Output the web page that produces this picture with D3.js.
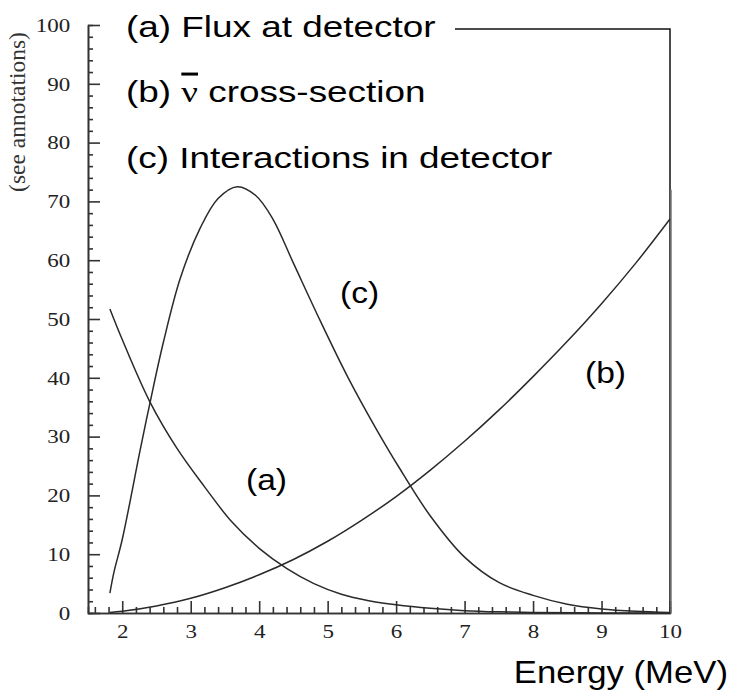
<!DOCTYPE html>
<html>
<head>
<meta charset="utf-8">
<script src="https://cdn.jsdelivr.net/npm/d3@7"></script>
<style>
  body { margin: 0; background: #fff; }
  .axis path, .axis line { stroke: #333; stroke-width: 1.6; }
  .label { font-family: "Liberation Sans", Arial, sans-serif; font-size: 30px; fill: #000; }
</style>
</head>
<body>
<script>
// values (energy in MeV, arbitrary units)
var fluxE = [1.82, 2, 2.4, 2.8, 3.2, 3.6, 4, 4.4, 4.8, 5.2, 5.6, 6, 6.5, 7, 7.5, 8, 9, 10];
var fluxV = [51.7, 46.5, 36, 28, 21.5, 15.5, 11, 7.6, 5, 3.2, 2.1, 1.4, 0.8, 0.4, 0.2, 0.1, 0, 0];

var crossE = [1.82, 2, 2.5, 3, 3.5, 4, 4.5, 5, 5.5, 6, 6.5, 7, 7.5, 8, 8.5, 9, 9.5, 10];
var crossV = [0.1, 0.3, 1.2, 2.5, 4.3, 6.5, 9.1, 12.2, 15.8, 19.8, 24.3, 29.2, 34.5, 40.2, 46.2, 52.6, 59.5, 67];

var interE = [1.82, 1.88, 2, 2.26, 2.41, 2.6, 2.85, 3.14, 3.4, 3.68, 3.95, 4.2, 4.5, 4.9, 5.3, 5.7, 6.03, 6.5, 7, 7.5, 8, 8.5, 9, 9.5, 10];
var interV = [3.4, 7, 12.5, 27.6, 36, 46, 57, 65.5, 70.5, 72.5, 71, 67, 59.5, 49.5, 40, 31.5, 25, 16.5, 9.5, 5.2, 3, 1.5, 0.7, 0.3, 0.1];

var xTicks = [2, 3, 4, 5, 6, 7, 8, 9, 10];
var yTicks = [0, 10, 20, 30, 40, 50, 60, 70, 80, 90, 100];

var series = [
  { name: "(a)", e: fluxE, v: fluxV },
  { name: "(b)", e: crossE, v: crossV },
  { name: "(c)", e: interE, v: interV }
];

var width = 734,
  height = 692;

var x = d3.scaleLinear().domain([1.5, 10]).range([88, 670]);
var y = d3.scaleLinear().domain([0, 100]).range([613, 25]);

var svg = d3
  .select("body")
  .append("svg")
  .attr("width", width)
  .attr("height", height);

// minor ticks
var xMinor = d3.range(8, 50).filter(function(i) { return i % 5 !== 0; }).map(function(i) { return i / 5; });
var yMinor = d3.range(0, 100, 2).filter(function(d) { return d % 10 !== 0; });

svg
  .append("g")
  .attr("class", "axis")
  .attr("transform", "translate(0," + y(0) + ")")
  .call(d3.axisBottom(x).tickValues(xMinor).tickSize(-6).tickFormat(""));

svg
  .append("g")
  .attr("class", "axis")
  .attr("transform", "translate(" + x(1.5) + ",0)")
  .call(d3.axisLeft(y).tickValues(yMinor).tickSize(-5).tickFormat(""));

var xAxis = svg
  .append("g")
  .attr("class", "axis")
  .attr("transform", "translate(0," + y(0) + ")")
  .call(d3.axisBottom(x).tickValues(xTicks).tickSizeInner(-12).tickSizeOuter(0).tickPadding(11));

var yAxis = svg
  .append("g")
  .attr("class", "axis")
  .attr("transform", "translate(" + x(1.5) + ",0)")
  .call(d3.axisLeft(y).tickValues(yTicks).tickSizeInner(-12).tickSizeOuter(0).tickPadding(15));

[xAxis, yAxis].forEach(function(g) {
  g.attr("font-family", "Liberation Serif, DejaVu Serif, serif").attr("font-size", 19.5);
  g.selectAll("text").attr("fill", "#222").attr("transform", "scale(1.18,1)");
});

// y title
svg
  .append("text")
  .attr("transform", "translate(25,112) rotate(-90)")
  .attr("text-anchor", "middle")
  .style("font-family", "Liberation Serif, serif")
  .style("font-size", "23.5px")
  .style("fill", "#333")
  .text("(see annotations)");

// frame from label (a) to the right edge
svg
  .append("path")
  .attr("d", "M455," + 29 + "H" + x(10) + "V" + y(0))
  .attr("fill", "none")
  .attr("stroke", "#111")
  .attr("stroke-width", 1.5);

svg
  .append("line")
  .attr("x1", x(10) + 1)
  .attr("x2", x(10) + 1)
  .attr("y1", y(72))
  .attr("y2", y(0))
  .attr("stroke", "#777")
  .attr("stroke-width", 1.5);

var line = d3
  .line()
  .x(function(d) { return x(d[0]); })
  .y(function(d) { return y(d[1]); })
  .curve(d3.curveCatmullRom.alpha(0.5));

svg
  .selectAll(".curve")
  .data(series)
  .enter()
  .append("path")
  .attr("class", "curve")
  .attr("fill", "none")
  .attr("stroke", "#2a2a2a")
  .attr("stroke-width", 1.5)
  .attr("d", function(s) {
    return line(s.e.map(function(e, i) { return [e, s.v[i]]; }));
  });

// legend text
var legend = [
  { y: 37, parts: ["(a) Flux at detector"] },
  { y: 102, parts: ["(b) ", "ν", " cross-section"] },
  { y: 168, parts: ["(c) Interactions in detector"] }
];

legend.forEach(function(l) {
  var t = svg
    .append("text")
    .attr("class", "label")
    .attr("transform", "translate(126," + l.y + ") scale(1.23,1)");
  l.parts.forEach(function(p) {
    var ts = t.append("tspan").text(p);
    if (p === "ν") {
      ts.style("font-family", "Liberation Serif, serif").style("text-decoration", "overline");
    }
  });
});

// curve names
var names = [
  { t: "(a)", x: 246, y: 490 },
  { t: "(c)", x: 340, y: 303 },
  { t: "(b)", x: 585, y: 383 }
];
svg
  .selectAll(".cname")
  .data(names)
  .enter()
  .append("text")
  .attr("class", "label")
  .attr("transform", function(d) { return "translate(" + d.x + "," + d.y + ") scale(1.12,1)"; })
  .text(function(d) { return d.t; });

svg
  .append("text")
  .attr("class", "label")
  .attr("transform", "translate(728,683) scale(1.12,1)")
  .attr("text-anchor", "end")
  .style("font-size", "31px")
  .text("Energy (MeV)");
</script>
</body>
</html>
